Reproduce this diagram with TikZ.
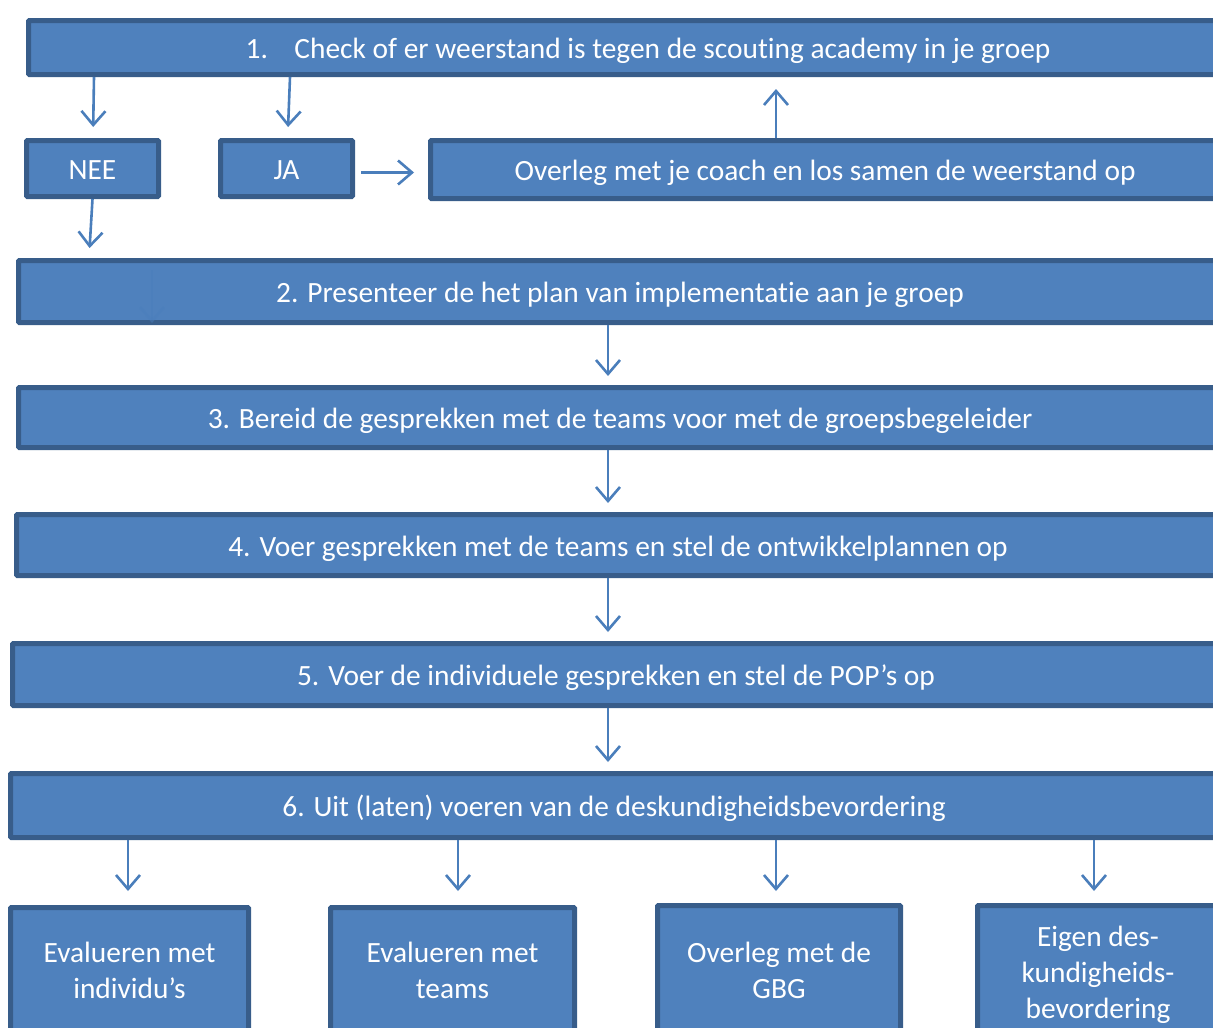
\documentclass[tikz,border=0pt]{standalone}
\usepackage{fontspec}
\setmainfont{Carlito}[Ligatures=NoCommon]
\usetikzlibrary{arrows.meta}

\definecolor{boxfill}{HTML}{4F81BD}
\definecolor{boxline}{HTML}{385D8A}
\definecolor{arrowblue}{HTML}{4A7EBB}

\tikzset{
  stepbox/.style={draw=boxline, line width=5pt, fill=boxfill, text=white,
    font=\fontsize{29.4}{36}\selectfont, align=center, inner sep=0pt, rounded corners=1pt},
  linebox/.style={stepbox, text height=26pt, text depth=4pt},
  arr/.style={draw=arrowblue, line width=2.6pt,
    -{Straight Barb[length=14pt, width=24pt, line width=2.6pt]}}
}

\begin{document}
\begin{tikzpicture}[x=1pt,y=-1pt]
\useasboundingbox (0,0) rectangle (1213,1028);
\clip (0,0) rectangle (1213,1028);
\node[linebox, minimum width=1239pt, minimum height=54pt] (b1) at (648,47.5) {1.\hspace{0.9em}Check of er weerstand is tegen de scouting academy in je groep};
\node[linebox, minimum width=132pt, minimum height=56pt] (nee) at (92.5,168.5) {NEE};
\node[linebox, minimum width=132pt, minimum height=56pt] (ja) at (286.5,168.5) {JA};
\node[linebox, minimum width=789pt, minimum height=58pt] (overleg) at (825,169.5) {Overleg met je coach en los samen de weerstand op};
\node[linebox, minimum width=1203pt, minimum height=62pt] (b2) at (620,291.5) {2. Presenteer de het plan van implementatie aan je groep};
\node[linebox, minimum width=1203pt, minimum height=60pt] (b3) at (620,417.5) {3. Bereid de gesprekken met de teams voor met de groepsbegeleider};
\node[linebox, minimum width=1203pt, minimum height=61pt] (b4) at (618,545) {4. Voer gesprekken met de teams en stel de ontwikkelplannen op};
\node[linebox, minimum width=1207pt, minimum height=62pt] (b5) at (616,674.5) {5. Voer de individuele gesprekken en stel de POP’s op};
\node[linebox, minimum width=1207pt, minimum height=64pt] (b6) at (614,805.5) {6. Uit (laten) voeren van de deskundigheidsbevordering};
\node[stepbox, minimum width=238pt, minimum height=126pt] (ea) at (129.5,970.5) {Evalueren met\\individu’s};
\node[stepbox, minimum width=244pt, minimum height=126pt] (eb) at (452.5,970.5) {Evalueren met\\teams};
\node[stepbox, minimum width=243pt, minimum height=130pt] (ec) at (779,970.5) {Overleg met de\\GBG};
\node[stepbox, minimum width=241pt, minimum height=138pt] (ed) at (1098,974.5) {Eigen des-\\kundigheids-\\bevordering};

% top part
\draw[arr, shorten >=11pt] (94,0 |- b1.south) -- (nee);
\draw[arr, shorten >=11pt] (290,0 |- b1.south) -- (ja);
\draw[arr, shorten <=6pt, shorten >=14pt] ([yshift=-4pt]ja.east) -- ([yshift=-4pt]ja.east -| overleg.west);
\draw[arr, shorten >=12pt] (776,0 |- overleg.north) -- (776,0 |- b1.south);
\draw[arr, shorten >=10pt] (nee.south) -- (89,0 |- b2.north);
\draw[arr, draw opacity=0.45, line width=1.5pt] (152,270) -- (152,323);

% main steps
\draw[arr, shorten >=9pt] (608,0 |- b2.south) -- (608,0 |- b3.north);
\draw[arr, shorten >=9pt] (608,0 |- b3.south) -- (608,0 |- b4.north);
\draw[arr, shorten >=9pt] (608,0 |- b4.south) -- (608,0 |- b5.north);
\draw[arr, shorten >=9pt] (608,0 |- b5.south) -- (608,0 |- b6.north);

% bottom row
\draw[arr, shorten >=14pt] (128,0 |- b6.south) -- (128,0 |- ea.north);
\draw[arr, shorten >=14pt] (458,0 |- b6.south) -- (458,0 |- eb.north);
\draw[arr, shorten >=12pt] (776,0 |- b6.south) -- (776,0 |- ec.north);
\draw[arr, shorten >=12pt] (1094,0 |- b6.south) -- (1094,0 |- ed.north);
\end{tikzpicture}
\end{document}
